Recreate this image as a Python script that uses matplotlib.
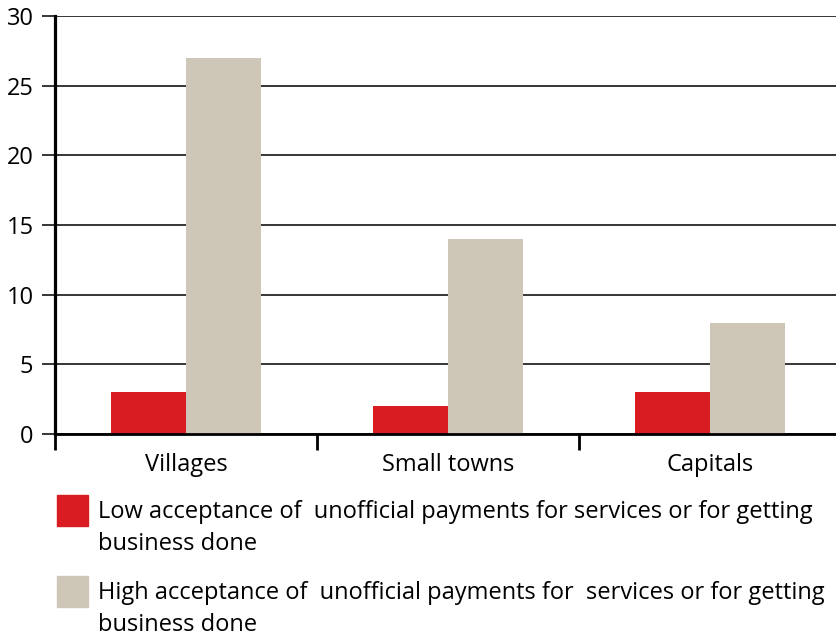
import matplotlib.pyplot as plt
from matplotlib.patches import Rectangle

# --- Data ---
categories = ['Villages', 'Small towns', 'Capitals']
low_acceptance = [3, 2, 3]
high_acceptance = [27, 14, 8]
legend_labels = [
    'Low acceptance of  unofficial payments for services or for getting\nbusiness done',
    'High acceptance of  unofficial payments for  services or for getting\nbusiness done',
]

RED = '#D91B22'
BEIGE = '#CEC7B8'

plt.rcParams['font.family'] = ['Open Sans', 'DejaVu Sans']

fig = plt.figure(figsize=(8.37, 6.39), dpi=100)
ax = fig.add_axes([55 / 837, 1 - 434 / 639, (841 - 55) / 837, (434 - 16) / 639])

x = list(range(len(categories)))
width = 0.287
ax.bar([i - width / 2 for i in x], low_acceptance, width, color=RED, zorder=3)
ax.bar([i + width / 2 for i in x], high_acceptance, width, color=BEIGE, zorder=3)

ax.set_xlim(-0.5, len(categories) - 0.5)
ax.set_ylim(0, 30)
ax.set_yticks(range(0, 31, 5))
ax.yaxis.grid(True, color='black', linewidth=1.1, zorder=1)
ax.set_axisbelow(True)

for side in ['top', 'right']:
    ax.spines[side].set_visible(False)
ax.spines['left'].set_linewidth(2.3)
ax.spines['bottom'].set_linewidth(2.0)
ax.spines['left'].set_zorder(4)
ax.spines['bottom'].set_zorder(4)

ax.tick_params(axis='y', length=9.5, width=1.1, pad=6, labelsize=17)
ax.set_xticks(x)
ax.set_xticklabels(categories)
ax.tick_params(axis='x', which='major', length=0, pad=14, labelsize=17)
ax.set_xticks([i - 0.5 for i in range(len(categories) + 1)], minor=True)
ax.tick_params(axis='x', which='minor', length=11.5, width=2.0)

# legend drawn by hand so the two-line labels sit like the original
legend_colors = [RED, BEIGE]
patch_tops = [495, 576]
for label, color, top in zip(legend_labels, legend_colors, patch_tops):
    fig.add_artist(Rectangle((57 / 837, 1 - (top + 31) / 639), 31 / 837, 31 / 639,
                             transform=fig.transFigure, color=color))
    fig.text(98 / 837, 1 - (top + 5) / 639, label, fontsize=17, va='top', ha='left',
             linespacing=1.42)

plt.savefig('out.png', dpi=100)
